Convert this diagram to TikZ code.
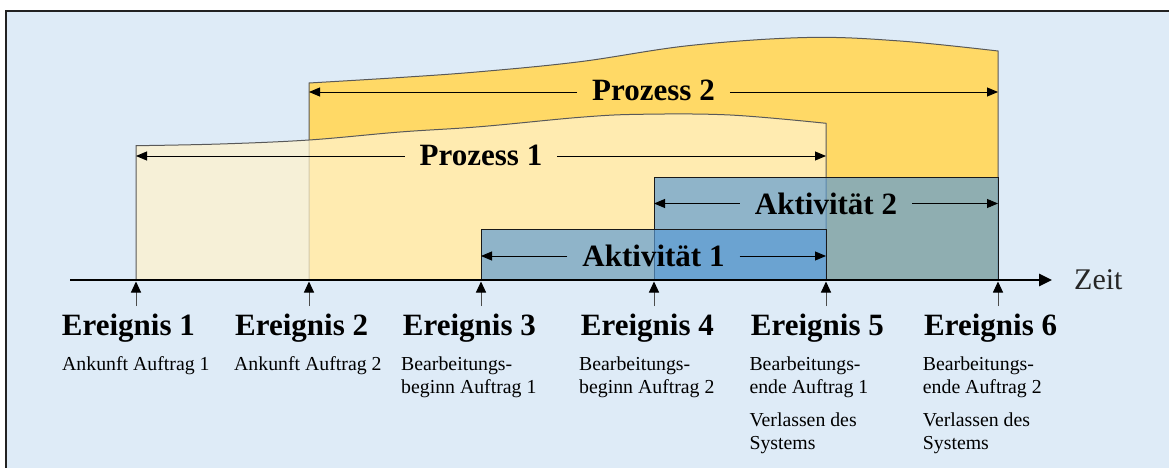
\documentclass[tikz,border=0pt]{standalone}
\usepackage{fontspec}
\setmainfont{Liberation Serif}
\usetikzlibrary{arrows.meta}

\definecolor{bgblue}{HTML}{DEEBF7}
\definecolor{procA}{HTML}{FFF2CC}
\definecolor{procB}{HTML}{FFD966}
\definecolor{actblue}{HTML}{5B9BD5}
\definecolor{frameline}{HTML}{222222}

\tikzset{
  proconefill/.style={fill=procA, fill opacity=0.73, draw=black!65, line width=1pt},
  proctwofill/.style={fill=procB, draw=black!65, line width=1pt},
  actbox/.style={fill=actblue, fill opacity=0.68, draw=black!90, line width=0.8pt},
  span/.style={-{Triangle[length=11pt,width=9pt]}, line width=0.9pt, draw=black},
  spanlabel/.style={font=\bfseries\fontsize{31}{36}\selectfont, inner xsep=15pt, inner ysep=0pt, anchor=base},
  timeaxis/.style={-{Triangle[length=13pt,width=12pt]}, line width=2.5pt, draw=black},
  eventtick/.style={-{Triangle[length=11pt,width=10pt,color=black]}, line width=1pt, draw=black!70},
  evhead/.style={font=\bfseries\fontsize{31}{36}\selectfont, inner sep=0pt, anchor=base west},
  evtext/.style={font=\fontsize{19.8}{23.3}\selectfont, inner sep=0pt, anchor=base west},
}

\newcommand{\evlines}[1]{\parbox[t]{175pt}{\raggedright #1}}

\begin{document}
\begin{tikzpicture}[x=1pt, y=-1pt]
  \useasboundingbox (0,0) rectangle (1169,468);
  \fill[white] (0,0) rectangle (1169,468);

  % panel
  \fill[bgblue] (6,11) rectangle (1169,468);
  \draw[frameline, line width=1.2pt] (6,468) -- (6,11) -- (1169,11);

  % process 2 (behind)
  \filldraw[proctwofill] (309,280) -- plot[smooth, tension=0.6] coordinates
    {(309,83) (400,77.5) (480,71.7) (580,61.7) (690,45.5) (807,37.5) (900,41) (998,51)}
    -- (998,280) -- cycle;

  % process 1 (translucent, on top of process 2)
  \filldraw[proconefill] (136,280) -- plot[smooth, tension=0.6] coordinates
    {(136,145.7) (220,144) (309,140) (400,132) (480,126.7) (580,117.3) (640,114.3) (730,115) (826,123.3)}
    -- (826,280) -- cycle;

  % activities
  \filldraw[actbox] (654,177) rectangle (998,280);
  \filldraw[actbox] (481,229) rectangle (826,280);

  % span arrows with labels
  \coordinate (p2l) at (309,92);
  \coordinate (p2r) at (998,92);
  \node[spanlabel] (p2) at (653.5,100.7) {Prozess 2};
  \draw[span] (p2.west |- p2l) -- (p2l);
  \draw[span] (p2.east |- p2r) -- (p2r);

  \coordinate (p1l) at (136,156);
  \coordinate (p1r) at (826,156);
  \node[spanlabel] (p1) at (481,165) {Prozess 1};
  \draw[span] (p1.west |- p1l) -- (p1l);
  \draw[span] (p1.east |- p1r) -- (p1r);

  \coordinate (a2l) at (654,203.5);
  \coordinate (a2r) at (998,203.5);
  \node[spanlabel] (a2) at (826,214) {Aktivität 2};
  \draw[span] (a2.west |- a2l) -- (a2l);
  \draw[span] (a2.east |- a2r) -- (a2r);

  \coordinate (a1l) at (481,256);
  \coordinate (a1r) at (826,256);
  \node[spanlabel] (a1) at (653.5,266) {Aktivität 1};
  \draw[span] (a1.west |- a1l) -- (a1l);
  \draw[span] (a1.east |- a1r) -- (a1r);

  % time axis
  \coordinate (ax0) at (70,280);
  \coordinate (ax1) at (1052,280);
  \draw[timeaxis] (ax0) -- (ax1);
  \node[font=\fontsize{30}{36}\selectfont, text=black!85, inner sep=0pt, anchor=base west] (zeit) at (1074,289.3) {Zeit};

  % events on the axis
  \foreach \i/\x in {1/136, 2/309, 3/481, 4/654, 5/826, 6/998} {
    \coordinate (e\i) at (\x,281.5);
    \coordinate (t\i) at (\x,306);
    \draw[eventtick] (t\i) -- (e\i);
  }

  % event captions
  \node[evhead] (h1) at (61.7,335) {Ereignis 1};
  \node[evhead] (h2) at (235,335) {Ereignis 2};
  \node[evhead] (h3) at (402.7,335) {Ereignis 3};
  \node[evhead] (h4) at (580.7,335) {Ereignis 4};
  \node[evhead] (h5) at (750.7,335) {Ereignis 5};
  \node[evhead] (h6) at (924,335) {Ereignis 6};

  \node[evtext] (d1) at (62,370) {\evlines{Ankunft Auftrag 1}};
  \node[evtext] (d2) at (234,370) {\evlines{Ankunft Auftrag 2}};
  \node[evtext] (d3) at (401,370) {\evlines{Bearbeitungs-\\beginn Auftrag 1}};
  \node[evtext] (d4) at (579,370) {\evlines{Bearbeitungs-\\beginn Auftrag 2}};
  \node[evtext] (d5) at (749.3,370) {\evlines{Bearbeitungs-\\ende Auftrag 1\\[10pt]Verlassen des\\Systems}};
  \node[evtext] (d6) at (922.7,370) {\evlines{Bearbeitungs-\\ende Auftrag 2\\[10pt]Verlassen des\\Systems}};
\end{tikzpicture}
\end{document}
